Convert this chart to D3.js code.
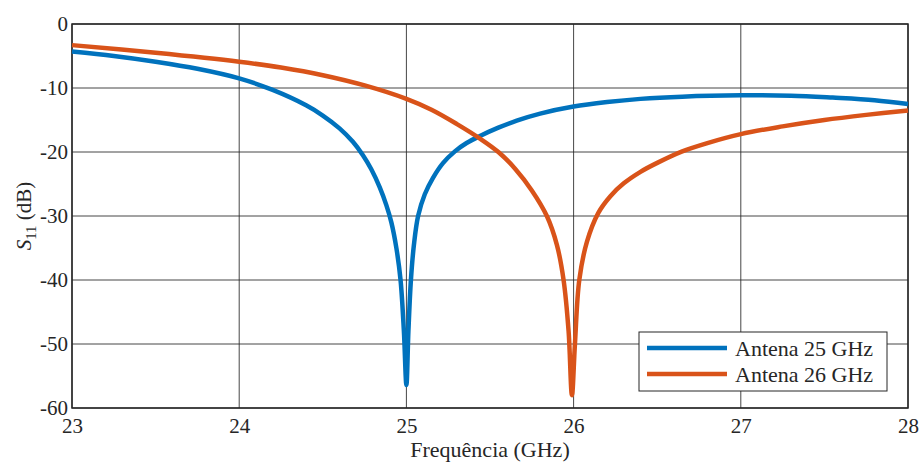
<!DOCTYPE html>
<html>
<head>
<meta charset="utf-8">
<script src="https://cdn.jsdelivr.net/npm/d3@7"></script>
<style>
    body { margin: 0; background: #fff; }
    svg { display: block; }
</style>
</head>
<body>
<div id="chart"></div>
<script>
// DATA
const seriesNames = ["Antena 25 GHz", "Antena 26 GHz"];
const seriesColors = ["#0072BD", "#D95319"];

const freq25 = [23.0, 23.25, 23.5, 23.75, 24.0, 24.2, 24.4, 24.5, 24.6, 24.68, 24.74, 24.79, 24.84, 24.88, 24.91, 24.94,
    24.965, 24.985, 25.0, 25.012, 25.027, 25.045, 25.07, 25.11, 25.16, 25.22, 25.29, 25.36, 25.44, 25.55, 25.66,
    25.8, 26.0, 26.2, 26.4, 26.65, 27.0, 27.3, 27.55, 27.8, 28.0];
const s11_25 = [-4.3, -5.0, -5.9, -7.0, -8.5, -10.3, -12.7, -14.3, -16.3, -18.4, -20.5, -22.7, -25.5, -28.3, -31.0, -35.0,
    -40.0, -48.0, -56.4, -48.0, -40.0, -34.5, -30.0, -26.6, -24.0, -21.7, -19.9, -18.6, -17.5, -16.2, -15.1,
    -14.0, -12.9, -12.2, -11.7, -11.35, -11.15, -11.2, -11.5, -11.9, -12.5];

const freq26 = [23.0, 23.5, 24.0, 24.25, 24.5, 24.75, 25.0, 25.15, 25.3, 25.44, 25.55, 25.65, 25.75, 25.84, 25.9,
    25.94, 25.97, 25.99, 26.008, 26.034, 26.08, 26.148, 26.22, 26.3, 26.4, 26.5, 26.65, 26.8, 27.0, 27.25, 27.5, 27.75, 28.0];
const s11_26 = [-3.3, -4.5, -5.9, -6.8, -8.0, -9.6, -11.7, -13.4, -15.6, -17.9, -20.0, -22.6, -26.0, -30.0, -34.5,
    -40.0, -48.0, -58.0, -50.0, -40.0, -34.0, -29.5, -26.9, -24.9, -23.1, -21.7, -19.9, -18.6, -17.2, -16.0, -15.0, -14.2, -13.5];

const xTicks = [23, 24, 25, 26, 27, 28];
const yTicks = [0, -10, -20, -30, -40, -50, -60];

const fontFamily = '"Liberation Serif", "DejaVu Serif", serif';

function render() {
    const width = 922;
    const height = 464;
    const margin = { top: 24, right: 14, bottom: 56, left: 72 };
    const innerW = width - margin.left - margin.right;
    const innerH = height - margin.top - margin.bottom;

    const x = d3.scaleLinear().domain([23, 28]).range([0, innerW]);
    const y = d3.scaleLinear().domain([-60, 0]).range([innerH, 0]);

    const svg = d3.select('#chart').append('svg')
        .attr('width', width)
        .attr('height', height)
        .attr('font-family', fontFamily);

    const g = svg.append('g')
        .attr('transform', `translate(${margin.left},${margin.top})`);

    // grid
    g.append('g').selectAll('line')
        .data(xTicks)
        .enter().append('line')
        .attr('x1', d => x(d)).attr('x2', d => x(d))
        .attr('y1', 0).attr('y2', innerH)
        .attr('stroke', '#262626')
        .attr('stroke-opacity', 0.85)
        .attr('stroke-width', 1);

    g.append('g').selectAll('line')
        .data(yTicks)
        .enter().append('line')
        .attr('x1', 0).attr('x2', innerW)
        .attr('y1', d => y(d)).attr('y2', d => y(d))
        .attr('stroke', '#262626')
        .attr('stroke-opacity', 0.85)
        .attr('stroke-width', 1);

    // axes
    const xAxis = g.append('g')
        .attr('transform', `translate(0,${innerH})`)
        .call(d3.axisBottom(x).tickValues(xTicks).tickSize(0).tickPadding(10).tickFormat(d3.format('d')));
    xAxis.attr('font-family', fontFamily);
    xAxis.select('.domain').remove();
    xAxis.selectAll('text').attr('fill', '#262626').style('font-size', '21px');

    const yAxis = g.append('g')
        .call(d3.axisLeft(y).tickValues(yTicks).tickSize(0).tickPadding(4).tickFormat(d => d === 0 ? '0' : '-' + Math.abs(d)));
    yAxis.attr('font-family', fontFamily);
    yAxis.select('.domain').remove();
    yAxis.selectAll('text').attr('fill', '#262626').style('font-size', '21px');

    // box
    g.append('rect')
        .attr('width', innerW)
        .attr('height', innerH)
        .attr('fill', 'none')
        .attr('stroke', '#262626')
        .attr('stroke-width', 1.5);

    // curves
    const line = d3.line()
        .x(d => x(d[0]))
        .y(d => y(d[1]))
        .curve(d3.curveCatmullRom.alpha(0.5));

    const series = [
        d3.zip(freq25, s11_25),
        d3.zip(freq26, s11_26)
    ];

    g.selectAll('path.curve')
        .data(series)
        .enter().append('path')
        .attr('class', 'curve')
        .attr('d', line)
        .attr('fill', 'none')
        .attr('stroke', (d, i) => seriesColors[i])
        .attr('stroke-width', 4.5)
        .attr('stroke-linejoin', 'round');

    // axis labels
    svg.append('text')
        .attr('x', margin.left + innerW / 2)
        .attr('y', 457)
        .attr('text-anchor', 'middle')
        .attr('fill', '#262626')
        .style('font-size', '22px')
        .text('Frequência (GHz)');

    const ylab = svg.append('text')
        .attr('transform', `translate(31,${margin.top + innerH / 2}) rotate(-90)`)
        .attr('text-anchor', 'middle')
        .attr('fill', '#262626')
        .style('font-size', '21px');
    ylab.append('tspan').style('font-style', 'italic').text('S');
    ylab.append('tspan').attr('dy', 5).style('font-size', '15px').text('11');
    ylab.append('tspan').attr('dy', -5).text(' (dB)');

    // legend
    const legend = svg.append('g')
        .attr('transform', 'translate(639,332)');

    legend.append('rect')
        .attr('width', 248)
        .attr('height', 59)
        .attr('fill', '#fff')
        .attr('stroke', '#262626')
        .attr('stroke-width', 1);

    const items = legend.selectAll('g.item')
        .data(seriesNames)
        .enter().append('g')
        .attr('class', 'item')
        .attr('transform', (d, i) => `translate(0,${16 + i * 26})`);

    items.append('line')
        .attr('x1', 8).attr('x2', 88)
        .attr('stroke', (d, i) => seriesColors[i])
        .attr('stroke-width', 4.5);

    items.append('text')
        .attr('x', 96)
        .attr('y', 8)
        .attr('fill', '#262626')
        .style('font-size', '22px')
        .text(d => d);
}

window.onload = render;
</script>
</body>
</html>
